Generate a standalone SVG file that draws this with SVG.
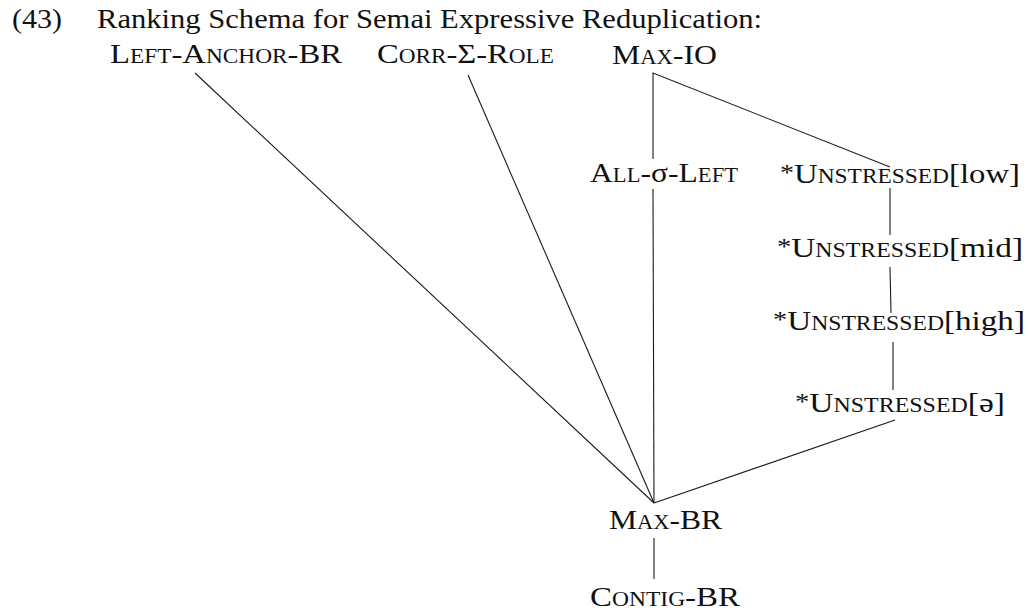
<svg xmlns="http://www.w3.org/2000/svg" width="1029" height="611" viewBox="0 0 1029 611">
  <style>
    text { font-family: "Liberation Serif", "Times New Roman", serif; font-size: 28px; fill: #111; }
    .sc { font-variant: small-caps; }
    .n { font-variant: normal; }
    .star { font-size: 24px; baseline-shift: 3px; }
    .edge { stroke: #1a1a1a; stroke-width: 1.1; fill: none; stroke-linecap: butt; }
  </style>
  <rect width="1029" height="611" fill="#ffffff"/>

  <!-- heading -->
  <g id="heading">
    <text x="12" y="28" textLength="50" lengthAdjust="spacingAndGlyphs">(43)</text>
    <text x="97" y="28" textLength="665" lengthAdjust="spacingAndGlyphs">Ranking Schema for Semai Expressive Reduplication:</text>
  </g>

  <!-- ranking lines -->
  <g id="connectors" class="edge">
    <line x1="195" y1="73" x2="654" y2="503"/>
    <line x1="468" y1="75" x2="654" y2="503"/>
    <polyline points="653,159 653,73 890,167"/>
    <line x1="653" y1="189" x2="654" y2="503"/>
    <line x1="890" y1="188" x2="890" y2="235"/>
    <line x1="890" y1="267" x2="891" y2="313"/>
    <line x1="893" y1="342" x2="893" y2="390"/>
    <line x1="895" y1="420" x2="654" y2="503"/>
    <line x1="654" y1="538" x2="654" y2="579"/>
  </g>

  <g id="left-anchor-br">
    <text class="sc" x="110" y="63" textLength="232" lengthAdjust="spacingAndGlyphs">Left-Anchor-BR</text>
  </g>
  <g id="corr-sigma-role">
    <text class="sc" x="377" y="63" textLength="177" lengthAdjust="spacingAndGlyphs">Corr-Σ-Role</text>
  </g>
  <g id="max-io">
    <text class="sc" x="612" y="64" textLength="105" lengthAdjust="spacingAndGlyphs">Max-IO</text>
  </g>
  <g id="all-sigma-left">
    <text class="sc" x="590" y="182" textLength="148" lengthAdjust="spacingAndGlyphs">All-<tspan class="n">σ</tspan>-Left</text>
  </g>
  <g id="unstressed-low">
    <text x="780" y="183" textLength="240" lengthAdjust="spacingAndGlyphs"><tspan class="star">*</tspan><tspan class="sc">Unstressed</tspan>[low]</text>
  </g>
  <g id="unstressed-mid">
    <text x="777" y="257" textLength="246" lengthAdjust="spacingAndGlyphs"><tspan class="star">*</tspan><tspan class="sc">Unstressed</tspan>[mid]</text>
  </g>
  <g id="unstressed-high">
    <text x="773" y="330" textLength="252" lengthAdjust="spacingAndGlyphs"><tspan class="star">*</tspan><tspan class="sc">Unstressed</tspan>[high]</text>
  </g>
  <g id="unstressed-schwa">
    <text x="795" y="412" textLength="210" lengthAdjust="spacingAndGlyphs"><tspan class="star">*</tspan><tspan class="sc">Unstressed</tspan>[ə]</text>
  </g>
  <g id="max-br">
    <text class="sc" x="609" y="529" textLength="113" lengthAdjust="spacingAndGlyphs">Max-BR</text>
  </g>
  <g id="contig-br">
    <text class="sc" x="590" y="606" textLength="150" lengthAdjust="spacingAndGlyphs">Contig-BR</text>
  </g>
</svg>
